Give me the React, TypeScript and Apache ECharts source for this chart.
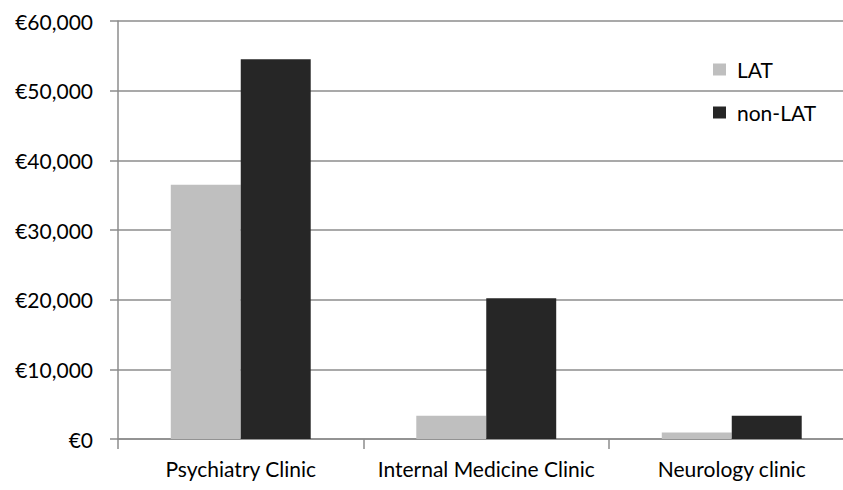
import React, { useEffect, useRef } from "react";
import * as echarts from "echarts";

const categories = ["Psychiatry Clinic", "Internal Medicine Clinic", "Neurology clinic"];
const latValues = [36500, 3350, 950];
const nonLatValues = [54500, 20200, 3350];
const seriesNames = ["LAT", "non-LAT"];

export default function App() {
  const ref = useRef<HTMLDivElement>(null);
  useEffect(() => {
    if (!ref.current) return;
    const chart = echarts.init(ref.current, null, { renderer: "svg" });
    const font = "Lato, 'Open Sans', sans-serif";
    chart.setOption({
      animation: false,
      backgroundColor: "#ffffff",
      textStyle: { fontFamily: font },
      grid: { left: 118, top: 21, bottom: 51, width: 736.5, outerBoundsMode: "none", containLabel: false },
      legend: {
        orient: "vertical",
        left: 708,
        top: 54,
        itemWidth: 13,
        itemHeight: 12,
        itemGap: 22,
        icon: "rect",
        textStyle: { fontSize: 21, color: "#000", fontFamily: font, padding: [0, 0, 0, 6] },
        data: seriesNames,
      },
      xAxis: {
        type: "category",
        data: categories,
        axisLine: { lineStyle: { color: "#8c8c8c", width: 1.5 } },
        axisTick: { show: true, length: 10, lineStyle: { color: "#8c8c8c", width: 1.5 } },
        axisLabel: { fontSize: 21, color: "#000", margin: 19, interval: 0, fontFamily: font },
      },
      yAxis: {
        type: "value",
        min: 0,
        max: 60000,
        interval: 10000,
        axisLine: { show: true, lineStyle: { color: "#8c8c8c", width: 1.5 } },
        axisTick: { show: true, length: 8, lineStyle: { color: "#8c8c8c", width: 1.5 } },
        splitLine: { show: true, lineStyle: { color: "#8c8c8c", width: 1.5 } },
        axisLabel: {
          fontSize: 21,
          color: "#000",
          margin: 25,
          fontFamily: font,
          formatter: (v: number) => "€" + v.toLocaleString("en-US"),
        },
      },
      series: [
        {
          name: seriesNames[0],
          type: "bar",
          data: latValues,
          barWidth: "28.5%",
          barGap: "0%",
          itemStyle: { color: "#bfbfbf" },
        },
        {
          name: seriesNames[1],
          type: "bar",
          data: nonLatValues,
          barWidth: "28.5%",
          barGap: "0%",
          itemStyle: { color: "#262626" },
        },
      ],
    });
    return () => chart.dispose();
  }, []);
  return <div ref={ref} style={{ width: 843, height: 490, position: "fixed", left: 0, top: 0 }} />;
}
